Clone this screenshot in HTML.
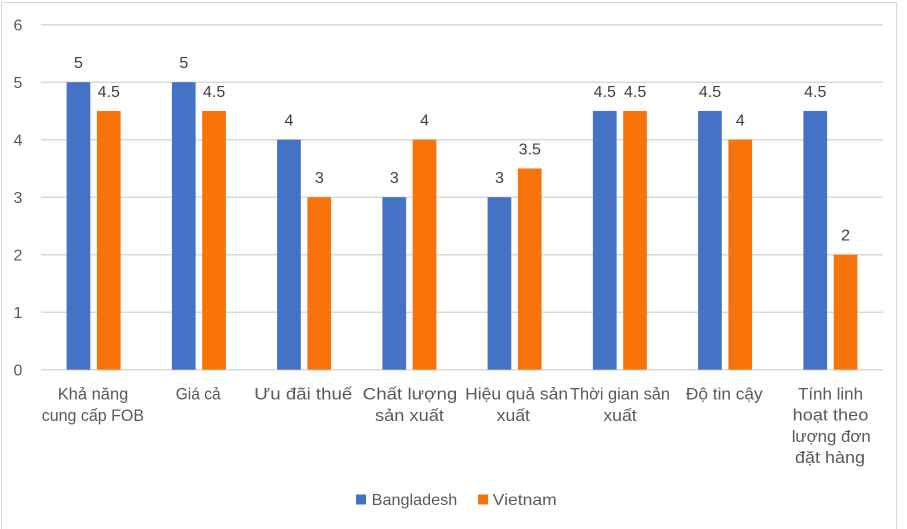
<!DOCTYPE html>
<html>
<head>
<meta charset="utf-8">
<style>
  html,body{margin:0;padding:0;background:#fff;}
  svg{display:block;}
  text{font-family:"Liberation Sans", Arial, sans-serif;}
</style>
</head>
<body>
<svg width="907" height="529" viewBox="0 0 907 529" xmlns="http://www.w3.org/2000/svg">
  <rect x="0" y="0" width="907" height="529" fill="#fff"/>
  <!-- chart border -->
  <path d="M1.5 529 V2.5 H896.5 V529" fill="none" stroke="#d9d9d9" stroke-width="1"/>

  <!-- gridlines -->
  <g stroke="#d9d9d9" stroke-width="1.5">
    <line x1="41" y1="24.7" x2="883" y2="24.7"/>
    <line x1="41" y1="82.2" x2="883" y2="82.2"/>
    <line x1="41" y1="139.7" x2="883" y2="139.7"/>
    <line x1="41" y1="197.2" x2="883" y2="197.2"/>
    <line x1="41" y1="254.7" x2="883" y2="254.7"/>
    <line x1="41" y1="312.2" x2="883" y2="312.2"/>
    <line x1="41" y1="369.7" x2="883" y2="369.7"/>
  </g>

  <!-- y tick labels -->
  <g fill="#595959" font-size="16" text-anchor="middle">
    <text x="18" y="30.5">6</text>
    <text x="18" y="88">5</text>
    <text x="18" y="145.5">4</text>
    <text x="18" y="203">3</text>
    <text x="18" y="260.5">2</text>
    <text x="18" y="318">1</text>
    <text x="18" y="375.5">0</text>
  </g>

  <!-- bars: Bangladesh -->
  <g fill="#4472c4">
    <rect x="66.6" y="82.2" width="23.7" height="287.5"/>
    <rect x="171.9" y="82.2" width="23.7" height="287.5"/>
    <rect x="277.1" y="139.7" width="23.7" height="230"/>
    <rect x="382.4" y="197.2" width="23.7" height="172.5"/>
    <rect x="487.6" y="197.2" width="23.7" height="172.5"/>
    <rect x="592.9" y="110.95" width="23.7" height="258.75"/>
    <rect x="698.1" y="110.95" width="23.7" height="258.75"/>
    <rect x="803.4" y="110.95" width="23.7" height="258.75"/>
  </g>
  <!-- bars: Vietnam -->
  <g fill="#f9730b">
    <rect x="96.9" y="110.95" width="23.7" height="258.75"/>
    <rect x="202.2" y="110.95" width="23.7" height="258.75"/>
    <rect x="307.4" y="197.2" width="23.7" height="172.5"/>
    <rect x="412.7" y="139.7" width="23.7" height="230"/>
    <rect x="517.9" y="168.45" width="23.7" height="201.25"/>
    <rect x="623.2" y="110.95" width="23.7" height="258.75"/>
    <rect x="728.4" y="139.7" width="23.7" height="230"/>
    <rect x="833.7" y="254.7" width="23.7" height="115"/>
  </g>

  <!-- data labels -->
  <g fill="#404040" font-size="16" text-anchor="middle">
    <text x="78.5" y="68.2">5</text>
    <text x="108.8" y="96.9">4.5</text>
    <text x="183.8" y="68.2">5</text>
    <text x="214.1" y="96.9">4.5</text>
    <text x="289" y="125.7">4</text>
    <text x="319.3" y="183.2">3</text>
    <text x="394.3" y="183.2">3</text>
    <text x="424.6" y="125.7">4</text>
    <text x="499.5" y="183.2">3</text>
    <text x="529.8" y="154.4">3.5</text>
    <text x="604.8" y="96.9">4.5</text>
    <text x="635.1" y="96.9">4.5</text>
    <text x="710" y="96.9">4.5</text>
    <text x="740.3" y="125.7">4</text>
    <text x="815.3" y="96.9">4.5</text>
    <text x="845.6" y="240.7">2</text>
  </g>

  <!-- category labels -->
  <g fill="#595959" font-size="17" text-anchor="middle">
    <text x="93" y="399.5" textLength="70.6" lengthAdjust="spacingAndGlyphs">Khả năng</text>
    <text x="92.9" y="421" textLength="102.3" lengthAdjust="spacingAndGlyphs">cung cấp FOB</text>
    <text x="198.2" y="399.5" textLength="45" lengthAdjust="spacingAndGlyphs">Giá cả</text>
    <text x="303.3" y="399.5" textLength="98" lengthAdjust="spacingAndGlyphs">Ưu đãi thuế</text>
    <text x="410" y="399.5" textLength="94.6" lengthAdjust="spacingAndGlyphs">Chất lượng</text>
    <text x="409.5" y="421" textLength="69" lengthAdjust="spacingAndGlyphs">sản xuất</text>
    <text x="516.6" y="399.5" textLength="103" lengthAdjust="spacingAndGlyphs">Hiệu quả sản</text>
    <text x="513.3" y="421" textLength="33.3" lengthAdjust="spacingAndGlyphs">xuất</text>
    <text x="620" y="399.5" textLength="100" lengthAdjust="spacingAndGlyphs">Thời gian sản</text>
    <text x="620" y="421" textLength="33.3" lengthAdjust="spacingAndGlyphs">xuất</text>
    <text x="724.3" y="399.5" textLength="76.7" lengthAdjust="spacingAndGlyphs">Độ tin cậy</text>
  </g>
  <g fill="#595959" font-size="17" text-anchor="middle">
    <text x="830.5" y="399.5" textLength="65" lengthAdjust="spacingAndGlyphs">Tính linh</text>
    <text x="830.5" y="420.5" textLength="75.6" lengthAdjust="spacingAndGlyphs">hoạt theo</text>
    <text x="831.2" y="441.8" textLength="79" lengthAdjust="spacingAndGlyphs">lượng đơn</text>
    <text x="830" y="463" textLength="70" lengthAdjust="spacingAndGlyphs">đặt hàng</text>
  </g>

  <!-- legend -->
  <rect x="356" y="494.5" width="10" height="10" fill="#4472c4"/>
  <text x="371.7" y="505" fill="#595959" font-size="16" textLength="85.6" lengthAdjust="spacingAndGlyphs">Bangladesh</text>
  <rect x="478" y="494.5" width="10" height="10" fill="#f9730b"/>
  <text x="492.7" y="505" fill="#595959" font-size="16" textLength="64" lengthAdjust="spacingAndGlyphs">Vietnam</text>
</svg>
</body>
</html>
